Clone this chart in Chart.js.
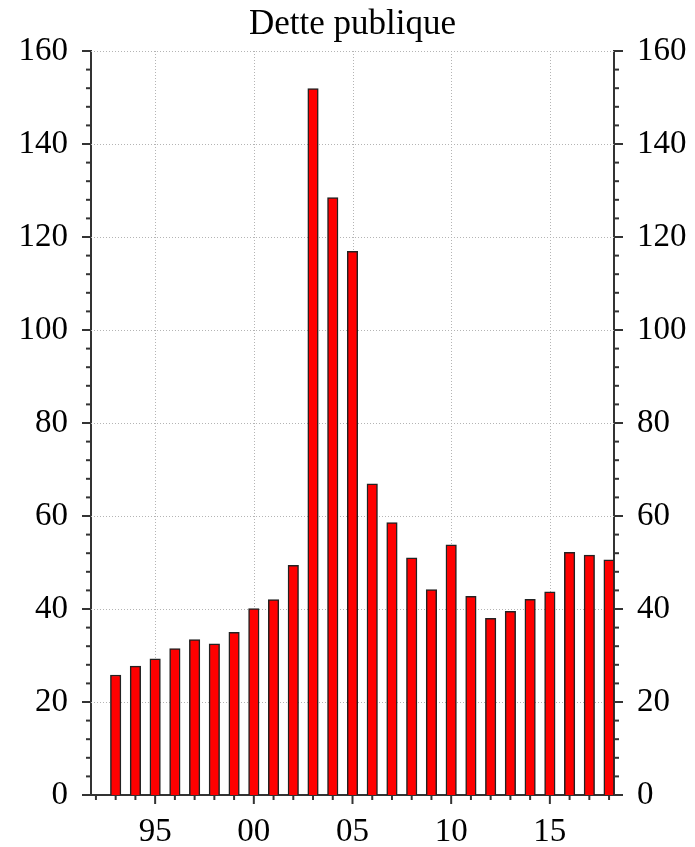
<!DOCTYPE html>
<html>
<head>
<meta charset="utf-8">
<script src="https://cdn.jsdelivr.net/npm/chart.js@4/dist/chart.umd.min.js"></script>
<style>
  html, body { margin: 0; padding: 0; background: #fff; }
  #wrap { width: 695px; height: 847px; }
</style>
</head>
<body>
<div id="wrap"><canvas id="c" width="695" height="847"></canvas></div>
<script>
const title = 'Dette publique';
const years = [1993,1994,1995,1996,1997,1998,1999,2000,2001,2002,2003,2004,2005,2006,2007,2008,2009,2010,2011,2012,2013,2014,2015,2016,2017,2018];
const debt = [25.8,27.7,29.3,31.5,33.4,32.5,35.0,40.1,42.0,49.4,151.9,128.5,116.9,66.9,58.6,51.0,44.2,53.8,42.7,38.0,39.5,42.1,43.7,52.2,51.6,50.6];
const xMajorTicks = [1995,2000,2005,2010,2015];
const yMajorTicks = [0,20,40,60,80,100,120,140,160];

const FONT = '"Liberation Serif", "Times New Roman", serif';
const AXIS = '#333333';

const tickPlugin = {
  id: 'ticksAndGrid',
  beforeDatasetsDraw(chart) {
    const {ctx, chartArea: a, scales} = chart;
    const x = scales.x, y = scales.y;
    ctx.save();
    ctx.strokeStyle = '#b4b4b4';
    ctx.lineWidth = 1;
    ctx.setLineDash([1, 2]);
    yMajorTicks.forEach(v => {
      if (v === 0) return;
      const py = Math.round(y.getPixelForValue(v)) + 0.5;
      ctx.beginPath(); ctx.moveTo(a.left, py); ctx.lineTo(a.right, py); ctx.stroke();
    });
    xMajorTicks.forEach(v => {
      const px = Math.round(x.getPixelForValue(v)) + 0.5;
      ctx.beginPath(); ctx.moveTo(px, a.top); ctx.lineTo(px, a.bottom); ctx.stroke();
    });
    ctx.restore();
  },
  afterDraw(chart) {
    const {ctx, chartArea: a, scales} = chart;
    const x = scales.x, y = scales.y;
    ctx.save();
    ctx.strokeStyle = AXIS;
    ctx.lineWidth = 2;
    for (let v = 0; v <= 160; v += 4) {
      const py = y.getPixelForValue(v);
      const len = v % 20 === 0 ? 9 : 5;
      ctx.beginPath(); ctx.moveTo(a.left, py); ctx.lineTo(a.left - len, py); ctx.stroke();
      ctx.beginPath(); ctx.moveTo(a.right, py); ctx.lineTo(a.right + len, py); ctx.stroke();
    }
    for (let v = 1992; v <= 2018; v++) {
      const px = x.getPixelForValue(v);
      const len = v % 5 === 0 ? 9 : 5;
      ctx.beginPath(); ctx.moveTo(px, a.bottom); ctx.lineTo(px, a.bottom + len); ctx.stroke();
    }
    ctx.restore();
  }
};

new Chart(document.getElementById('c'), {
  type: 'bar',
  data: {
    datasets: [{
      data: years.map((yr, i) => ({x: yr, y: debt[i]})),
      backgroundColor: '#ff0000',
      borderColor: '#222222',
      borderWidth: 1.5,
      barThickness: 10.5
    }]
  },
  options: {
    responsive: false,
    animation: false,
    layout: { padding: { top: 0, left: 0, right: 0, bottom: 0 } },
    plugins: {
      legend: { display: false },
      tooltip: { enabled: false },
      title: {
        display: true,
        text: title,
        fullSize: false,
        color: '#000',
        font: { family: FONT, size: 35, weight: 'normal' },
        padding: { top: 4, bottom: 5 }
      }
    },
    scales: {
      x: {
        type: 'linear',
        position: 'bottom',
        offset: false,
        min: 1991.75,
        max: 2018.25,
        afterBuildTicks: s => { s.ticks = xMajorTicks.map(v => ({value: v})); },
        afterFit: s => { s.height = 52; },
        grid: { display: false, offset: false },
        border: { display: true, color: AXIS, width: 2 },
        ticks: {
          color: '#000',
          font: { family: FONT, size: 33 },
          padding: 10,
          maxRotation: 0,
          callback: v => String(v % 100).padStart(2, '0')
        }
      },
      y: {
        position: 'left',
        min: 0,
        max: 160,
        afterBuildTicks: s => { s.ticks = yMajorTicks.map(v => ({value: v})); },
        afterFit: s => { s.width = 91; },
        grid: { display: false },
        border: { display: true, color: AXIS, width: 2 },
        ticks: { color: '#000', font: { family: FONT, size: 33 }, padding: 15 }
      },
      y2: {
        position: 'right',
        min: 0,
        max: 160,
        afterBuildTicks: s => { s.ticks = yMajorTicks.map(v => ({value: v})); },
        afterFit: s => { s.width = 81; },
        grid: { display: false },
        border: { display: true, color: AXIS, width: 2 },
        ticks: { color: '#000', font: { family: FONT, size: 33 }, padding: 15 }
      }
    }
  },
  plugins: [tickPlugin]
});
</script>
</body>
</html>
